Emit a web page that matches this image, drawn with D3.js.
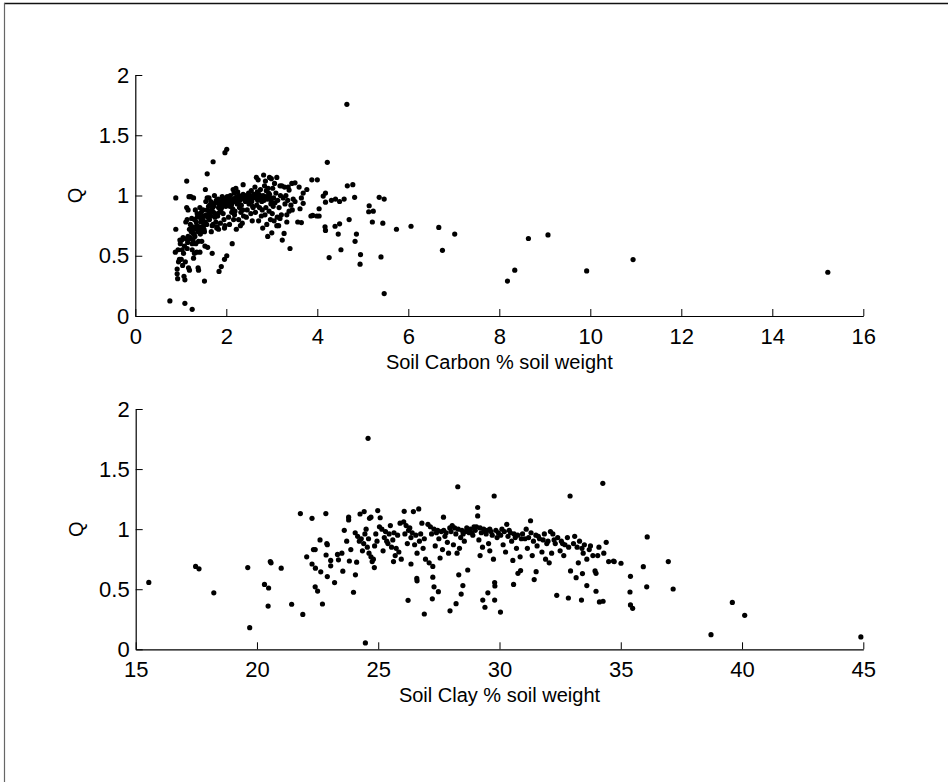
<!DOCTYPE html>
<html>
<head>
<meta charset="utf-8">
<script src="https://cdn.jsdelivr.net/npm/d3@7"></script>
<style>
  html, body { margin: 0; padding: 0; background: #fff; overflow: hidden; }
  svg { display: block; }
  svg text { font-family: "Liberation Sans", Arial, Helvetica, sans-serif; fill: #000; }
</style>
</head>
<body>
<svg id="svg"></svg>
<script>

const width = 948;
const height = 782;

// Q against soil carbon (% soil weight)
const carbonQ = [
  [4.65,1.757],[4.22,1.275],[1.97,1.355],[2.01,1.383],[1.71,1.28],[1.58,1.18],[1.13,1.12],[0.89,0.98],[0.89,0.72],
  [0.76,0.125],[1.09,0.105],[1.25,0.055],[1.52,0.29],[1.84,0.37],[1.89,0.41],[1.96,0.47],[2.01,0.50],[2.13,0.60],
  [0.92,0.39],[0.92,0.35],[0.93,0.31],
  [5.47,0.186],[5.40,0.49],[4.94,0.43],[4.95,0.51],[4.83,0.62],[4.86,0.68],[4.52,0.55],[4.26,0.485],[4.46,0.68],
  [4.49,0.765],[4.39,0.745],[4.17,0.74],[4.18,0.71],[4.70,0.80],[4.82,0.985],[4.78,1.09],[4.66,1.08],[4.59,0.97],
  [4.49,0.95],[4.40,0.97],[4.31,0.96],[4.18,0.945],[4.18,1.02],[4.13,0.995],[4.04,0.89],[3.99,0.83],[4.04,0.83],
  [3.88,1.13],[4.0,1.13],[3.86,0.83],[3.9,0.835],[3.77,1.05],[3.69,1.02],[3.69,0.935],[3.65,0.98],[3.60,1.07],
  [3.62,0.89],[3.57,0.78],[3.65,0.775],[3.51,1.105],[3.51,0.95],[3.38,1.045],[3.40,0.56],[3.36,1.07],[3.33,0.84],
  [3.33,0.78],[3.27,0.685],[3.23,0.63],[3.18,1.08],[2.66,1.15],[2.82,1.17],[2.95,1.15],[2.99,1.14],[3.11,1.15],
  [2.91,0.66],[3.0,0.69],[2.8,0.73],[3.11,0.75],[3.18,0.81],
  [5.14,0.915],[5.13,0.865],[5.21,0.78],[5.23,0.87],[5.36,0.985],[5.47,0.97],[5.44,0.77],[5.74,0.72],[6.06,0.745],
  [6.67,0.735],[6.75,0.545],[7.02,0.68],[8.18,0.29],[8.34,0.38],[8.64,0.643],[9.07,0.673],[9.92,0.374],[10.94,0.468],
  [15.22,0.363],
  [0.88,0.53],[0.95,0.45],[0.97,0.47],[0.99,0.60],[0.94,0.55],[0.98,0.63],
  [1.02,0.63],[1.05,0.65],[1.03,0.55],[1.08,0.58],[1.06,0.52],[1.01,0.47],[1.04,0.42],[1.07,0.33],[1.09,0.30],
  [1.11,0.78],[1.14,0.80],[1.12,0.64],[1.16,0.66],[1.18,0.99],[1.15,0.61],[1.17,0.40],[1.19,0.38],[1.13,0.90],
  [1.16,0.88],[1.19,0.72],[1.1,0.45],[1.14,0.56],
  [1.22,0.99],[1.28,0.98],[1.21,0.76],[1.24,0.81],[1.26,0.74],[1.23,0.70],[1.29,0.68],[1.31,0.66],[1.27,0.63],
  [1.33,0.60],[1.25,0.55],[1.35,0.53],[1.3,0.52],[1.28,0.48],[1.38,0.40],[1.39,0.38],[1.36,0.85],[1.32,0.88],
  [1.37,0.72],[1.34,0.78],[1.38,0.70],[1.21,0.65],[1.39,0.62],[1.36,0.82],[1.3,0.80],[1.25,0.6],
  [1.42,0.90],[1.45,0.86],[1.41,0.83],[1.48,0.80],[1.44,0.78],[1.5,0.75],[1.47,0.73],[1.52,0.70],[1.43,0.68],
  [1.55,0.95],[1.46,0.62],[1.53,0.58],[1.42,0.53],[1.54,1.05],[1.58,0.98],[1.56,0.84],[1.59,0.82],[1.57,0.76],
  [1.51,0.72],[1.59,0.57],[1.49,0.88],[1.4,0.74],
  [1.62,0.98],[1.66,0.95],[1.64,0.92],[1.7,0.90],[1.68,0.88],[1.72,0.86],[1.61,0.84],[1.75,0.82],[1.63,0.80],
  [1.77,0.78],[1.69,0.75],[1.79,0.73],[1.67,0.70],[1.69,0.52],[1.74,1.00],[1.78,0.96],[1.73,0.93],[1.65,0.87],
  [1.76,0.85],[1.71,0.76],[1.61,0.91],[1.8,0.74],
  [1.82,0.97],[1.86,0.95],[1.84,0.93],[1.9,0.90],[1.88,0.88],[1.93,0.85],[1.81,0.83],[1.95,0.80],[1.87,0.77],
  [1.97,0.75],[1.83,0.72],[1.92,0.98],[1.98,0.96],[1.94,0.94],[1.99,0.91],[1.85,0.86],[1.96,0.73],[1.91,0.99],
  [2.02,0.99],[2.06,0.97],[2.04,0.95],[2.1,0.93],[2.08,0.91],[2.14,0.89],[2.12,0.86],[2.18,0.84],[2.05,0.82],
  [2.16,0.80],[2.2,0.98],[2.17,1.02],[2.03,0.94],[2.11,0.92],[2.19,0.87],[2.07,0.76],[2.22,0.72],[2.15,1.05],[2.09,1.0],
  [2.21,1.06],[2.25,1.03],[2.28,1.0],[2.23,0.98],[2.3,0.96],[2.26,0.94],[2.33,0.92],[2.29,0.90],[2.36,0.88],
  [2.32,0.86],[2.38,0.83],[2.27,0.80],[2.35,0.77],[2.31,0.75],[2.37,1.09],[2.39,0.97],[2.24,0.93],
  [2.41,1.0],[2.45,0.99],[2.48,0.98],[2.43,0.97],[2.52,0.96],[2.56,0.95],[2.5,0.93],[2.58,0.91],[2.46,0.88],
  [2.54,0.85],[2.44,0.82],[2.57,0.79],[2.49,1.02],[2.55,1.04],[2.59,0.90],
  [2.7,1.13],[2.63,1.07],[2.68,1.03],[2.72,1.01],[2.65,1.0],[2.76,0.99],[2.61,0.98],[2.74,0.97],[2.78,0.95],
  [2.67,0.92],[2.73,0.90],[2.79,0.88],[2.64,0.86],[2.77,0.83],[2.71,0.79],[2.75,1.05],[2.69,0.96],
  [2.86,1.12],[2.84,1.08],[2.88,1.04],[2.93,1.02],[2.81,1.0],[2.96,0.98],[2.83,0.96],[2.98,0.93],[2.87,0.90],
  [2.94,0.87],[2.85,0.84],[2.97,0.80],[2.89,0.76],[2.92,1.06],[2.99,0.95],
  [3.06,1.1],[3.02,1.06],[3.09,1.02],[3.04,0.98],[3.13,0.96],[3.07,0.94],[3.16,0.9],[3.01,0.85],[3.12,0.82],
  [3.05,0.79],[3.15,0.75],[3.19,1.0],[3.03,0.91],
  [3.22,1.08],[3.28,1.07],[3.31,1.0],[3.25,0.98],[3.35,0.96],[3.42,0.92],[3.45,0.88],[3.38,0.87],[3.47,0.97],
  [3.29,0.93],[3.44,1.1],[3.21,0.84],
  [1.58,0.88],[1.63,0.86],[1.66,0.83],[1.72,0.91],[1.76,0.94],[1.83,0.90],[1.89,0.94],[1.92,0.92],[1.95,0.97],
  [2.0,0.95],[2.04,0.98],[2.08,0.96],[2.13,0.94],[2.16,0.97],[2.2,0.95],[2.24,0.99],[2.28,0.97],[2.33,0.99],
  [2.37,1.01],[2.42,0.95],[2.47,0.96],[2.51,1.0],[2.55,0.98],[2.6,1.01],[2.64,0.99],[2.68,0.98],[2.73,1.0],
  [2.77,0.98],[2.82,0.97],[2.87,0.99],[2.91,0.97],[2.95,1.01],[1.3,0.72],[1.35,0.75],[1.45,0.8],[1.5,0.83],
  [1.26,0.69],[1.18,0.64],[1.44,0.7],[1.54,0.78]
];

// Q against soil clay (% soil weight)
const clayQ = [
  [15.54,0.557],[17.47,0.69],[17.61,0.67],[18.22,0.47],[19.62,0.68],[19.70,0.18],[20.31,0.54],[20.48,0.51],
  [20.46,0.36],[20.55,0.73],[20.58,0.72],[21.0,0.675],[21.43,0.375],[21.79,1.13],[21.89,0.29],[22.05,0.77],
  [22.27,1.09],[22.27,0.71],[22.33,0.83],[22.4,0.83],[22.4,0.52],[22.5,0.485],[22.41,0.675],[22.6,0.91],
  [22.63,0.645],[22.7,0.377],[22.84,1.13],[22.88,0.88],[22.9,0.87],[22.85,0.785],[22.9,0.605],[23.04,0.74],
  [23.04,0.695],[23.2,0.555],[23.32,0.79],[23.36,0.745],[23.5,0.8],[23.54,0.65],[23.6,0.99],[23.7,0.9],
  [23.78,1.10],[23.78,1.077],[23.81,0.735],[23.87,0.83],[23.98,0.475],[24.06,0.62],[24.11,0.725],[24.25,1.126],
  [24.42,1.146],[24.47,0.053],[24.58,1.756],[24.64,1.09],[24.7,1.1],[24.84,0.68],[24.98,1.155],[25.08,1.095],
  [25.63,0.73],[25.74,0.84],[26.07,1.148],[26.23,0.408],[26.45,1.146],[26.67,1.168],[26.59,0.59],[26.6,0.57],
  [26.9,0.294],[27.23,0.42],[27.3,0.52],[27.25,0.60],[27.25,0.69],[27.48,0.48],[27.69,1.10],[27.96,0.32],
  [28.21,0.38],[28.28,1.353],[28.32,0.62],[28.42,0.46],[28.49,0.53],[28.69,0.66],[29.1,1.18],[29.1,1.11],
  [29.31,0.41],[29.4,0.35],[29.52,0.47],[29.78,1.276],[29.8,0.41],[29.8,0.555],[29.81,0.527],[30.04,0.31],
  [32.91,1.276],[34.26,1.381],[31.28,1.07],[36.09,0.935],[34.40,0.89],[34.7,0.735],[34.73,0.73],[35.01,0.716],
  [35.93,0.688],[36.96,0.73],[35.4,0.607],[35.38,0.477],[35.4,0.369],[35.49,0.341],[36.07,0.52],[37.16,0.502],
  [39.6,0.39],[40.11,0.283],[38.72,0.122],[44.9,0.103],[32.36,0.449],[32.84,0.427],[33.38,0.41],[34.12,0.394],
  [34.27,0.40],[33.98,0.483],[33.6,0.53],[33.16,0.596],[32.93,0.652],[33.42,0.63],[33.94,0.652],[33.98,0.632],
  [31.43,0.58],[31.51,0.646],[30.58,0.54],[30.76,0.632],[30.87,0.655],
  [24.05,0.97],[24.15,0.94],[24.3,0.92],[24.22,0.9],[24.4,0.88],[24.55,0.85],[24.35,0.82],[24.62,0.8],[24.7,0.77],
  [24.8,0.75],[24.5,1.0],[24.9,0.96],[24.75,0.73],[24.6,0.92],[24.85,0.86],
  [25.05,1.02],[25.15,1.0],[25.3,0.98],[25.45,0.96],[25.25,0.93],[25.6,0.91],[25.4,0.88],[25.55,0.85],[25.85,0.81],
  [25.7,0.78],[25.95,0.75],[25.9,1.05],[25.8,0.95],[25.2,0.82],[25.5,1.03],
  [26.05,1.06],[26.15,1.03],[26.3,1.01],[26.25,0.99],[26.4,0.97],[26.55,0.95],[26.35,0.93],[26.7,0.9],[26.5,0.87],
  [26.85,0.84],[26.6,0.8],[26.95,0.75],[26.35,0.71],[26.8,1.05],[26.9,0.92],[26.1,0.96],
  [27.05,1.04],[27.15,1.02],[27.3,1.0],[27.45,0.99],[27.6,0.98],[27.2,0.96],[27.75,0.94],[27.5,0.92],[27.85,0.89],
  [27.35,0.86],[27.65,0.83],[27.9,0.8],[27.55,0.76],[27.1,0.72],[27.95,1.01],[27.8,0.97],
  [28.05,1.03],[28.15,1.01],[28.3,1.0],[28.45,0.99],[28.6,0.98],[28.75,0.97],[28.2,0.96],[28.9,0.95],[28.4,0.93],
  [28.55,0.9],[28.1,0.87],[28.35,0.84],[28.25,0.8],[28.8,1.0],[28.7,0.98],[28.95,1.02],
  [29.05,1.02],[29.2,1.01],[29.35,1.0],[29.5,0.99],[29.65,0.98],[29.25,0.97],[29.45,0.96],[29.7,0.95],[29.9,0.93],
  [29.15,0.91],[29.55,0.88],[29.3,0.85],[29.6,0.82],[29.2,0.78],[29.75,0.75],[29.85,0.99],
  [30.3,1.04],[30.1,1.0],[30.2,0.98],[30.45,0.97],[30.6,0.96],[30.75,0.95],[30.35,0.94],[30.9,0.92],[30.5,0.9],
  [30.15,0.87],[30.7,0.84],[30.25,0.81],[30.85,0.77],[30.55,0.74],
  [31.1,1.0],[31.3,0.97],[31.5,0.95],[31.2,0.93],[31.65,0.92],[31.8,0.91],[31.4,0.9],[31.95,0.88],[31.55,0.86],
  [31.15,0.84],[31.75,0.81],[31.35,0.78],[31.9,0.75],
  [32.1,0.98],[32.2,0.96],[32.4,0.93],[32.55,0.9],[32.3,0.88],[32.7,0.87],[32.85,0.85],[32.5,0.82],[32.15,0.8],
  [32.65,0.78],[32.05,0.72],
  [33.1,0.94],[33.3,0.9],[33.5,0.87],[33.2,0.85],[33.7,0.83],[33.45,0.8],[33.85,0.78],[33.6,0.75],[33.25,0.72],
  [34.1,0.85],[34.3,0.8],[34.05,0.78],[34.5,0.73],
  [27.4,0.97],[27.7,0.99],[28.0,0.98],[28.5,0.96],[28.65,1.01],[28.85,0.97],[29.0,0.99],[29.4,0.98],[29.6,1.0],
  [29.95,0.97],[30.05,0.95],[30.4,0.99],[30.65,0.93],[30.95,0.96],[31.05,0.92],[31.6,0.94],[31.85,0.96],
  [32.0,0.9],[32.25,0.91],[32.6,0.88],[32.8,0.93],[33.05,0.88],[33.4,0.84],[33.75,0.86],[25.35,0.9],[25.65,0.97],
  [26.2,0.88],[26.75,0.96],[24.45,0.96],[24.95,0.9]
];

const carbonTicks = [0, 2, 4, 6, 8, 10, 12, 14, 16];
const clayTicks = [15, 20, 25, 30, 35, 40, 45];
const qTicks = [0, 0.5, 1, 1.5, 2];


const svg = d3.select("#svg")
  .attr("width", width)
  .attr("height", height);

svg.append("rect")
  .attr("width", width)
  .attr("height", height)
  .attr("fill", "white");

// figure frame (only top and left edges visible)
svg.append("line")
  .attr("x1", 4).attr("x2", width)
  .attr("y1", 3.5).attr("y2", 3.5)
  .attr("stroke", "#111")
  .attr("stroke-width", 1.6);
svg.append("line")
  .attr("x1", 4.5).attr("x2", 4.5)
  .attr("y1", 3).attr("y2", height)
  .attr("stroke", "#666")
  .attr("stroke-width", 1.2);


function drawPanel(data, xDomain, xTicks, xLabel, box) {
  const x = d3.scaleLinear().domain(xDomain).range([box.left, box.right]);
  const y = d3.scaleLinear().domain([0, 2]).range([box.bottom, box.top]);

  const g = svg.append("g");

  const xAxis = d3.axisBottom(x)
    .tickValues(xTicks)
    .tickFormat(d3.format("~g"))
    .tickSizeInner(-7)
    .tickSizeOuter(0)
    .tickPadding(12);

  const yAxis = d3.axisLeft(y)
    .tickValues(qTicks)
    .tickFormat(d3.format("~g"))
    .tickSizeInner(-7)
    .tickSizeOuter(0)
    .tickPadding(6);

  const gx = g.append("g")
    .attr("transform", `translate(0,${box.bottom})`)
    .call(xAxis);
  const gy = g.append("g")
    .attr("transform", `translate(${box.left},0)`)
    .call(yAxis);

  [gx, gy].forEach(a => {
    a.selectAll("text")
      .style("font-size", "22px")
      .style("font-family", '"Liberation Sans", Arial, sans-serif')
      .attr("fill", "#000");
    a.selectAll("line").attr("stroke", "#000");
    a.select(".domain").attr("stroke", "#000").attr("stroke-width", 1.2);
  });

  g.append("text")
    .attr("x", (box.left + box.right) / 2)
    .attr("y", box.bottom + 53)
    .attr("text-anchor", "middle")
    .style("font-size", "20px")
    .text(xLabel);

  g.append("text")
    .attr("transform", `translate(${box.left - 60},${(box.top + box.bottom) / 2}) rotate(-90)`)
    .attr("text-anchor", "middle")
    .attr("dy", "0.35em")
    .style("font-size", "20px")
    .text("Q");

  g.append("g")
    .selectAll("circle")
    .data(data)
    .enter().append("circle")
    .attr("cx", d => x(d[0]))
    .attr("cy", d => y(d[1]))
    .attr("r", 2.6)
    .attr("fill", "#000");
}

drawPanel(carbonQ, [0, 16], carbonTicks, "Soil Carbon % soil weight",
  { left: 135.3, right: 863.3, top: 75, bottom: 316 });

drawPanel(clayQ, [15, 45], clayTicks, "Soil Clay % soil weight",
  { left: 135.7, right: 863.3, top: 409, bottom: 649.3 });
</script>
</body>
</html>
